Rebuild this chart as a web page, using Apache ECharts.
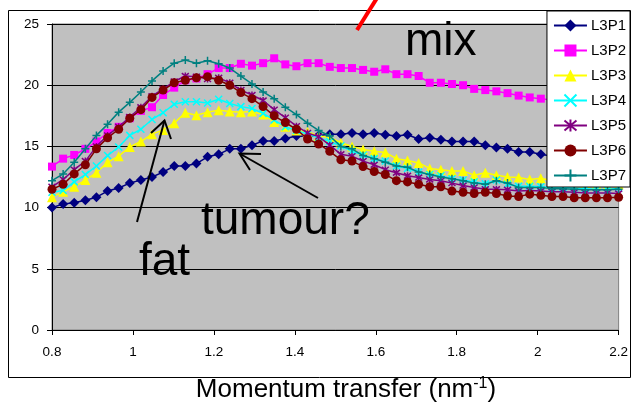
<!DOCTYPE html>
<html>
<head>
<meta charset="utf-8">
<script src="https://cdn.jsdelivr.net/npm/echarts@6/dist/echarts.min.js"></script>
<style>
  html, body { margin: 0; padding: 0; background: #ffffff; }
  #chart { width: 631px; height: 404px; }
</style>
</head>
<body>
<div id="chart"></div>
<script>
// Momentum transfer values (nm^-1) shared by every profile
const momentum = [
  0.8000, 0.8275, 0.8549, 0.8824, 0.9098, 0.9373, 0.9647, 0.9922, 1.0196, 1.0471,
  1.0745, 1.1020, 1.1294, 1.1569, 1.1843, 1.2118, 1.2392, 1.2667, 1.2941, 1.3216,
  1.3490, 1.3765, 1.4039, 1.4314, 1.4588, 1.4863, 1.5137, 1.5412, 1.5686, 1.5961,
  1.6235, 1.6510, 1.6784, 1.7059, 1.7333, 1.7608, 1.7882, 1.8157, 1.8431, 1.8706,
  1.8980, 1.9255, 1.9529, 1.9804, 2.0078, 2.0353, 2.0627, 2.0902, 2.1176, 2.1451,
  2.1725, 2.2000
];

// Scattered intensity profiles
const l3p1 = [10.0, 10.3, 10.4, 10.6, 10.85, 11.35, 11.6, 12.0, 12.25, 12.5,
  12.9, 13.4, 13.4, 13.6, 14.15, 14.35, 14.8, 14.8, 15.1, 15.45,
  15.45, 15.65, 15.85, 15.8, 15.9, 16.0, 16.0, 16.1, 16.0, 16.1,
  15.95, 15.85, 15.95, 15.6, 15.7, 15.55, 15.4, 15.4, 15.4, 15.1,
  14.9, 14.8, 14.55, 14.55, 14.35, 14.2, 14.05, 13.95, 13.85, 13.75,
  13.65, 13.55];
const l3p2 = [13.35, 14.0, 14.3, 14.8, 15.4, 16.1, 16.6, 17.3, 17.9, 18.2,
  19.2, 19.8, 20.4, 20.55, 20.9, 21.4, 21.4, 21.75, 21.6, 21.8,
  22.2, 21.7, 21.55, 21.8, 21.8, 21.5, 21.4, 21.4, 21.25, 21.1,
  21.3, 20.9, 20.9, 20.75, 20.2, 20.2, 20.1, 20.0, 19.7, 19.6,
  19.5, 19.35, 19.15, 19.0, 18.9, 18.8, 18.7, 18.6, 18.5, 18.45,
  18.4, 18.3];
const l3p3 = [10.85, 11.3, 11.7, 12.25, 12.85, 13.7, 14.2, 14.95, 15.4, 16.0,
  16.35, 16.9, 17.75, 17.55, 17.8, 17.95, 17.85, 17.8, 17.85, 17.6,
  17.0, 16.6, 16.3, 16.2, 15.85, 15.75, 15.3, 15.0, 14.75, 14.6,
  14.5, 14.0, 13.85, 13.65, 13.2, 13.1, 13.0, 13.0, 12.65, 12.85,
  12.65, 12.5, 12.45, 12.3, 12.4, 12.2, 12.1, 12.05, 12.0, 11.95,
  11.85, 11.9];
const l3p4 = [11.25, 11.4, 12.1, 12.7, 13.4, 14.25, 14.95, 15.9, 16.4, 17.2,
  17.75, 18.45, 18.65, 18.65, 18.55, 18.85, 18.5, 18.25, 18.1, 17.7,
  17.15, 16.6, 16.3, 16.0, 15.7, 15.4, 15.05, 14.6, 14.3, 14.0,
  13.8, 13.4, 13.2, 12.9, 12.7, 12.6, 12.35, 12.25, 12.1, 11.95,
  12.25, 11.9, 11.75, 11.75, 11.7, 11.65, 11.65, 11.6, 11.55, 11.5,
  11.45, 11.6];
const l3p5 = [11.7, 12.3, 13.1, 13.8, 15.0, 15.9, 16.6, 17.4, 18.2, 19.1,
  19.7, 20.3, 20.75, 20.7, 20.5, 20.6, 20.2, 19.6, 19.2, 18.75,
  18.0, 17.35, 16.65, 16.1, 15.8, 15.1, 14.35, 14.2, 13.8, 13.5,
  13.1, 12.85, 12.6, 12.45, 12.3, 12.2, 12.0, 11.8, 11.65, 11.5,
  11.5, 11.45, 11.35, 11.4, 11.35, 11.3, 11.3, 11.25, 11.2, 11.2,
  11.2, 11.15];
const l3p6 = [11.5, 11.9, 12.75, 13.5, 14.8, 15.7, 16.4, 17.3, 18.0, 19.0,
  19.6, 20.2, 20.4, 20.6, 20.7, 20.4, 20.0, 19.4, 18.9, 18.25,
  17.5, 16.95, 16.4, 15.6, 15.2, 14.6, 13.9, 13.8, 13.35, 12.95,
  12.7, 12.2, 12.1, 11.9, 11.7, 11.7, 11.35, 11.25, 11.15, 11.25,
  11.15, 10.95, 10.9, 11.1, 11.0, 10.9, 10.9, 10.8, 10.8, 10.8,
  10.8, 10.85];
const l3p7 = [12.2, 12.75, 13.7, 14.8, 15.9, 16.8, 17.8, 18.6, 19.45, 20.35,
  21.15, 21.8, 22.05, 21.8, 22.0, 21.75, 21.4, 20.75, 20.1, 19.45,
  18.9, 18.2, 17.6, 16.9, 16.3, 15.85, 15.0, 14.8, 14.25, 14.0,
  13.7, 13.4, 13.3, 12.9, 12.7, 12.5, 12.35, 12.2, 12.0, 11.9,
  12.2, 12.0, 11.65, 11.65, 11.65, 11.55, 11.55, 11.5, 11.45, 11.45,
  11.45, 11.5];

const seriesNames = ['L3P1', 'L3P2', 'L3P3', 'L3P4', 'L3P5', 'L3P6', 'L3P7'];
const seriesValues = [l3p1, l3p2, l3p3, l3p4, l3p5, l3p6, l3p7];

// Axis ranges and tick spacing
const xMin = 0.8, xMax = 2.2, xStep = 0.2;
const yMin = 0, yMax = 25, yStep = 5;

const FONT = '"Liberation Sans", Arial, Helvetica, sans-serif';

// Marker look per profile: colour, symbol, size, stroked outline
const CROSS = 'path://M0,0L10,10M10,0L0,10';
const STAR = 'path://M0,0L10,10M10,0L0,10M5,-1L5,11';
const PLUS = 'path://M5,0L5,10M0,5L10,5';
const looks = [
  { color: '#000080', symbol: 'diamond',  size: 10, stroke: 0 },
  { color: '#FF00FF', symbol: 'rect',     size: 8,  stroke: 0 },
  { color: '#FFFF00', symbol: 'triangle', size: 10, stroke: 0 },
  { color: '#00FFFF', symbol: CROSS,      size: 7,  stroke: 1.5 },
  { color: '#800080', symbol: STAR,       size: 7,  stroke: 1.5 },
  { color: '#800000', symbol: 'circle',   size: 9,  stroke: 0 },
  { color: '#008080', symbol: PLUS,       size: 8,  stroke: 1.5 }
];

const series = seriesNames.map((name, k) => {
  const lk = looks[k];
  return {
    name: name,
    type: 'line',
    data: momentum.map((x, i) => [x, seriesValues[k][i]]),
    symbol: lk.symbol,
    symbolSize: lk.size,
    showAllSymbol: true,
    lineStyle: { color: lk.color, width: 1.5 },
    itemStyle: lk.stroke
      ? { color: lk.color, borderColor: lk.color, borderWidth: lk.stroke }
      : { color: lk.color, borderWidth: 0 },
    emphasis: { disabled: true },
    z: 2 + k
  };
});

const chart = echarts.init(document.getElementById('chart'), null, { renderer: 'canvas' });

chart.setOption({
  animation: false,
  backgroundColor: '#ffffff',
  grid: {
    left: 52, right: 10, top: 24, bottom: 74,
    show: true,
    backgroundColor: '#C0C0C0',
    borderColor: '#808080',
    borderWidth: 1
  },
  xAxis: {
    type: 'value',
    min: xMin, max: xMax, interval: xStep,
    axisLine: { show: true, onZero: false, lineStyle: { color: '#000000', width: 1 } },
    axisTick: { show: true, inside: false, length: 5, lineStyle: { color: '#000000' } },
    axisLabel: { color: '#000000', fontFamily: FONT, fontSize: 13.5, margin: 15 },
    splitLine: { show: false }
  },
  yAxis: {
    type: 'value',
    min: yMin, max: yMax, interval: yStep,
    axisLine: { show: true, lineStyle: { color: '#000000', width: 1 } },
    axisTick: { show: true, inside: false, length: 5, lineStyle: { color: '#000000' } },
    axisLabel: { color: '#000000', fontFamily: FONT, fontSize: 13.5, margin: 13 },
    splitLine: { show: true, lineStyle: { color: '#000000', width: 1 } }
  },
  legend: {
    orient: 'vertical',
    right: 1,
    top: 11,
    width: 83,
    padding: [7, 4, 4, 6],
    itemGap: 10,
    itemWidth: 33,
    itemHeight: 15,
    backgroundColor: '#ffffff',
    borderColor: '#000000',
    borderWidth: 1,
    borderRadius: 0,
    textStyle: { color: '#000000', fontFamily: FONT, fontSize: 15, lineHeight: 15, padding: [0, 0, 0, -1] },
    data: seriesNames,
    selectedMode: false,
    z: 20
  },
  series: series,
  graphic: [
    // outer chart frame
    { type: 'rect', z: 0, silent: true,
      shape: { x: 8.5, y: 10.5, width: 622, height: 367 },
      style: { fill: null, stroke: '#000000', lineWidth: 1 } },
    // axis title with superscript unit
    { type: 'text', z: 30, silent: true, x: 346, y: 390,
      style: {
        text: '{a|Momentum transfer (nm}{s|-1}{a|)}',
        align: 'center', verticalAlign: 'middle',
        rich: {
          a: { fontFamily: FONT, fontSize: 26, fill: '#000000', lineHeight: 29 },
          s: { fontFamily: FONT, fontSize: 16, fill: '#000000', lineHeight: 29, verticalAlign: 'top' }
        }
      } },
    // annotations
    { type: 'text', z: 30, silent: true, x: 405, y: 42,
      style: { text: 'mix', font: '46px ' + FONT, fill: '#000000', align: 'left', verticalAlign: 'middle' } },
    { type: 'text', z: 30, silent: true, x: 201, y: 221,
      style: { text: 'tumour?', font: '46px ' + FONT, fill: '#000000', align: 'left', verticalAlign: 'middle' } },
    { type: 'text', z: 30, silent: true, x: 139, y: 262,
      style: { text: 'fat', font: '46px ' + FONT, fill: '#000000', align: 'left', verticalAlign: 'middle' } },
    // arrow pointing at the fat peak
    { type: 'polyline', z: 30, silent: true,
      shape: { points: [[137, 222], [164.5, 120.5]] },
      style: { stroke: '#000000', lineWidth: 2, fill: null } },
    { type: 'polyline', z: 30, silent: true,
      shape: { points: [[151, 133], [164.5, 120.5], [171, 139]] },
      style: { stroke: '#000000', lineWidth: 2, fill: null } },
    // arrow pointing at the tumour profile
    { type: 'polyline', z: 30, silent: true,
      shape: { points: [[318, 198], [239.5, 153.5]] },
      style: { stroke: '#000000', lineWidth: 2, fill: null } },
    { type: 'polyline', z: 30, silent: true,
      shape: { points: [[261, 154], [239.5, 153.5], [250, 170]] },
      style: { stroke: '#000000', lineWidth: 2, fill: null } },
    // red marker stroke at the top
    { type: 'line', z: 31, silent: true,
      shape: { x1: 357, y1: 30, x2: 377, y2: -2 },
      style: { stroke: '#FF0000', lineWidth: 4 } }
  ]
});
</script>
</body>
</html>
